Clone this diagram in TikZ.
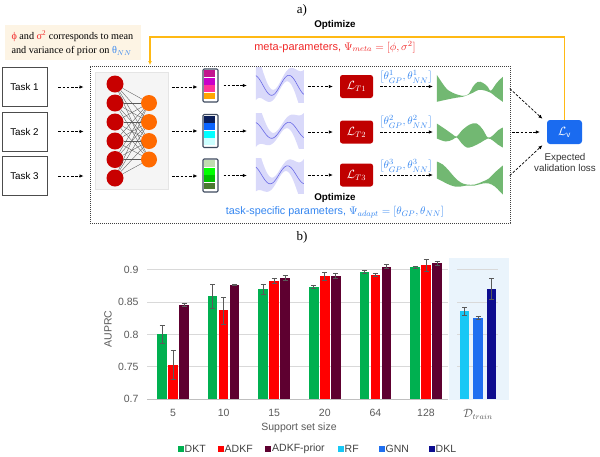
\documentclass[tikz,border=0pt]{standalone}
\usepackage{fontspec}
\setmainfont{Liberation Sans}
\newfontfamily\serifont{Liberation Serif}
\usetikzlibrary{arrows.meta}
\definecolor{notebg}{HTML}{FDF4E4}
\definecolor{optorange}{HTML}{FFB914}
\definecolor{metared}{HTML}{F02828}
\definecolor{adaptblue}{HTML}{3385F0}
\definecolor{lred}{HTML}{C00000}
\definecolor{lvblue}{HTML}{1A6BF0}
\definecolor{nnred}{HTML}{C80000}
\definecolor{nnorange}{HTML}{FF6A00}
\definecolor{slate}{HTML}{3E4A5E}
\definecolor{gpband}{HTML}{D9D9FA}
\definecolor{gpline}{HTML}{6A6AE6}
\definecolor{gband}{HTML}{72B872}
\definecolor{cAa}{HTML}{C2148E}
\definecolor{cAb}{HTML}{C800C8}
\definecolor{cAc}{HTML}{FF3399}
\definecolor{cAd}{HTML}{FFA500}
\definecolor{cBa}{HTML}{0A1E5A}
\definecolor{cBb}{HTML}{0A64FF}
\definecolor{cBc}{HTML}{00FFFF}
\definecolor{cBd}{HTML}{CCFFFF}
\definecolor{cCa}{HTML}{C0DCB0}
\definecolor{cCb}{HTML}{00FF00}
\definecolor{cCc}{HTML}{00C000}
\definecolor{cCd}{HTML}{4A7A30}
\definecolor{dkt}{HTML}{00B050}
\definecolor{adkf}{HTML}{FF0000}
\definecolor{prior}{HTML}{5E0030}
\definecolor{rf}{HTML}{18C8F5}
\definecolor{gnn}{HTML}{1F6FF0}
\definecolor{dkl}{HTML}{0D0D8F}
\definecolor{dtbg}{HTML}{EAF4FC}
\newcommand\barerr[4]{%
  \fill[#4] ({#1-4.75},399) rectangle ({#1+4.75},{399-(#2-0.7)*646});
  \draw[errbar] ({#1},{399-(#2-#3-0.7)*646}) -- ({#1},{399-(#2+#3-0.7)*646});
  \draw[errbar] ({#1-2.5},{399-(#2-#3-0.7)*646}) -- ({#1+2.5},{399-(#2-#3-0.7)*646});
  \draw[errbar] ({#1-2.5},{399-(#2+#3-0.7)*646}) -- ({#1+2.5},{399-(#2+#3-0.7)*646});}
\begin{document}
\begin{tikzpicture}[x=1pt,y=-1pt,font=\fontsize{9.8}{11}\selectfont,
  task/.style={draw=black!70,line width=0.9pt,minimum width=45pt,minimum height=39pt,inner sep=0pt},
  darr/.style={draw=black,line width=0.7pt,dash pattern=on 2.6pt off 1.6pt,-{Latex[length=4pt,width=3.6pt]}},
  lbox/.style={fill=lred,rounded corners=2.5pt,minimum width=33pt,minimum height=23pt,inner sep=0pt,text=white,font=\fontsize{11.5}{11}\selectfont},
  vecbox/.style={draw=slate,line width=1.1pt,fill=white,rounded corners=1.2pt,minimum width=15pt,minimum height=33pt,inner sep=0pt},
  panel/.style={minimum width=48pt,minimum height=35pt,inner sep=0pt},
  gridln/.style={draw=black!15,line width=0.7pt},
  errbar/.style={draw=black!65,line width=0.7pt},
  ticklab/.style={text=black!65,font=\fontsize{10.5}{12}\selectfont},
  optlab/.style={font=\fontsize{9.8}{11}\selectfont\bfseries},
  thlab/.style={text=adaptblue,font=\fontsize{11}{12}\selectfont},
  legsq/.style={minimum size=6pt,inner sep=0pt}
  ]
\useasboundingbox (0,0) rectangle (600,456);
% ---------- part a ----------
\node[font=\serifont\fontsize{13}{13}\selectfont] (alab) at (302,10) {a)};
\fill[notebg] (5,25) rectangle (141,60);
\node[anchor=west,align=left,font=\serifont\fontsize{10.2}{14.5}\selectfont] (note) at (8,43.5)
  {\textcolor{metared}{ϕ} and \textcolor{metared}{σ\textsuperscript{2}} corresponds to mean\\ and variance of prior on \textcolor{adaptblue}{θ$_{NN}$}};
% frame
\node[draw=black!75,line width=1pt,dash pattern=on 1.2pt off 0.8pt,minimum width=420pt,minimum height=157pt,inner sep=0pt] (frame) at (300,144.5) {};
% tasks
\node[task] (t1) at (24.5,87) {Task 1};
\node[task] (t2) at (24.5,131.5) {Task 2};
\node[task] (t3) at (24.5,176) {Task 3};
\foreach \k in {1,2,3}
  \draw[darr,shorten <=11pt,shorten >=6pt] (t\k.east) -- (t\k.east -| frame.west);
% NN
\node[fill=black!4,draw=black!10,minimum width=73pt,minimum height=117pt,inner sep=0pt] (nn) at (131.5,130.5) {};
\foreach \i/\y in {1/84,2/103,3/122,4/141,5/159.5,6/178}
  \node[circle,fill=nnred,minimum size=17pt,inner sep=0pt] (r\i) at (115,\y) {};
\foreach \j/\y in {1/103,2/122,3/141,4/159.5}
  \node[circle,fill=nnorange,minimum size=16pt,inner sep=0pt] (o\j) at (149,\y) {};
\foreach \i in {1,...,6}
  \foreach \j in {1,...,4}
    \draw[black!65,line width=0.35pt] (r\i) -- (o\j);
% vectors
\foreach \k/\y/\ca/\cb/\cc/\cd in {1/85.5/cAa/cAb/cAc/cAd,2/131/cBa/cBb/cBc/cBd,3/175.5/cCa/cCb/cCc/cCd}{
  \node[vecbox] (v\k) at (210.5,\y) {};
  \begin{scope}[shift={(v\k.north west)}]
    \fill[\ca] (2,2) rectangle (13,8.8);
    \fill[\cb] (2,9.4) rectangle (13,16.2);
    \fill[\cc] (2,16.8) rectangle (13,23.6);
    \fill[\cd] (2,24.2) rectangle (13,31);
  \end{scope}
}
\draw[darr,shorten <=4pt,shorten >=5pt] (nn.east |- t1.east) -- (v1.west |- t1.east);
\draw[darr,shorten <=4pt,shorten >=5pt] (nn.east |- v2.west) -- (v2.west);
\draw[darr,shorten <=4pt,shorten >=5pt] (nn.east |- t3.east) -- (v3.west |- t3.east);
% GP panels
\foreach \k/\yc/\c/\a/\ph in {1/85.5/17.5/10/0.33,2/131/17/8/0.33,3/176.5/16/9/0.30}{
  \node[panel] (gp\k) at (280,\yc) {};
  \begin{scope}[shift={(gp\k.north west)}]
    \clip (0,0) rectangle (48,35);
    \fill[gpband] plot[domain=0:1,samples=50,variable=\t] ({48*\t},{\c-\a*sin(500*(\t-\ph)-90)-(3.5+21*(2*\t-1)*(2*\t-1))})
      -- plot[domain=1:0,samples=50,variable=\t] ({48*\t},{\c-\a*sin(500*(\t-\ph)-90)+(3.5+21*(2*\t-1)*(2*\t-1))}) -- cycle;
    \draw[gpline,line width=0.6pt] plot[domain=0:1,samples=50,variable=\t] ({48*\t},{\c-\a*sin(500*(\t-\ph)-90)});
  \end{scope}
  \draw[darr,shorten <=5pt,shorten >=9pt] (v\k.east) -- (v\k.east -| gp\k.west);
}
% losses
\node[lbox] (l1) at (356.5,86.5) {$\mathcal{L}_{T1}$};
\node[lbox] (l2) at (356.5,132) {$\mathcal{L}_{T2}$};
\node[lbox] (l3) at (356.5,175) {$\mathcal{L}_{T3}$};
\foreach \k in {1,2,3}
  \draw[darr,shorten <=4pt,shorten >=7pt] (gp\k.east |- l\k.west) -- (l\k.west);
% green bands
\node[minimum width=66pt,minimum height=27pt,inner sep=0pt] (g1) at (470,88.5) {};
\node[minimum width=66pt,minimum height=28pt,inner sep=0pt] (g2) at (470,135.7) {};
\node[minimum width=66pt,minimum height=34pt,inner sep=0pt] (g3) at (470,178.7) {};
\begin{scope}[shift={(g1.north west)}]
  \fill[gband] plot[smooth,tension=0.6] coordinates {(0,0) (9,13) (16,18) (26,21) (32,19) (36,12) (41,7) (46,8) (51,12) (54,16) (60,8) (66,2)}
    -- plot[smooth,tension=0.6] coordinates {(66,27) (59,22) (54,18) (49,16) (42,15) (36,18) (26,22) (19,23) (9,25) (0,27)} -- cycle;
\end{scope}
\begin{scope}[shift={(g2.north west)}]
  \fill[gband] plot[smooth,tension=0.6] coordinates {(0,2) (9,8) (16,13) (20,15) (25,9) (33,3) (40,2) (46,8) (51,16) (56,14) (61,9) (66,6)}
    -- plot[smooth,tension=0.6] coordinates {(66,26) (61,23) (56,19) (51,17) (44,21) (36,25) (30,26) (25,22) (20,16) (16,18) (9,20) (0,17)} -- cycle;
\end{scope}
\begin{scope}[shift={(g3.north west)}]
  \fill[gband] plot[smooth,tension=0.6] coordinates {(0,0) (6,3) (12,9) (18,16) (24,21) (30,23) (38,23) (46,20) (52,17) (58,11) (66,4)}
    -- plot[smooth,tension=0.6] coordinates {(66,33) (58,25) (52,22) (46,22) (38,24) (30,24) (24,25) (18,25) (12,23) (6,20) (0,17)} -- cycle;
\end{scope}
\foreach \k in {1,2,3}
  \draw[darr,shorten <=7pt,shorten >=4pt] (l\k.east) -- (l\k.east -| g\k.west);
\node[thlab] (p1) at (406,77) {$\left[\theta^1_{GP},\theta^1_{NN}\right]$};
\node[thlab] (p2) at (406,122) {$\left[\theta^2_{GP},\theta^2_{NN}\right]$};
\node[thlab] (p3) at (406,166) {$\left[\theta^3_{GP},\theta^3_{NN}\right]$};
% validation loss
\node[fill=lvblue,rounded corners=3pt,minimum width=35pt,minimum height=24pt,inner sep=0pt,text=white,font=\fontsize{11.5}{11}\selectfont] (lv) at (564.5,132) {$\mathcal{L}_{\mathrm{v}}$};
\node[align=center,text=black!80,font=\fontsize{9.8}{11}\selectfont] (elab) at (565,162.5) {Expected\\validation loss};
\draw[darr,shorten <=9pt,shorten >=6pt] ([yshift=6pt]g1.east) -- ([yshift=-3pt]lv.north west);
\draw[darr,shorten <=9pt,shorten >=7pt] (g2.east |- lv.west) -- (lv.west);
\draw[darr,shorten <=9pt,shorten >=6pt] ([yshift=-3pt]g3.east) -- ([yshift=3pt]lv.south west);
% optimize paths
\coordinate (oin) at (150,65);
\draw[optorange,line width=1.3pt,-{Latex[length=4pt,width=4pt]}] (lv.north) -- (lv.north |- 0,37) -- (oin |- 0,37) -- (oin);
\node[optlab] (opt1) at (335,25) {Optimize};
\node[text=metared,font=\fontsize{11}{12}\selectfont] (meta) at (335,47) {meta-parameters, $\Psi_{meta}=[\phi,\sigma^2]$};
\node[optlab] (opt2) at (335,198) {Optimize};
\node[text=adaptblue,font=\fontsize{10.8}{12}\selectfont] (adapt) at (335,212) {task-specific parameters, $\Psi_{adapt}=[\theta_{GP},\theta_{NN}]$};
% ---------- part b ----------
\node[font=\serifont\fontsize{13}{13}\selectfont] (blab) at (302,237) {b)};
\fill[dtbg] (449,258) rectangle (509,400);
\foreach \v in {0.75,0.8,0.85,0.9}{
  \draw[gridln] (147,{399-(\v-0.7)*646}) -- (448,{399-(\v-0.7)*646});
  \draw[gridln] (457,{399-(\v-0.7)*646}) -- (498,{399-(\v-0.7)*646});
}
\draw[draw=black!25,line width=0.8pt] (147,399) -- (448,399);
\foreach \v/\lab [count=\n] in {0.7/0.7,0.75/0.75,0.8/0.8,0.85/0.85,0.9/0.9}
  \node[ticklab,anchor=east] (yl\n) at (142,{399-(\v-0.7)*646}) {\lab};
\node[ticklab,rotate=90] (ylab) at (108,329) {AUPRC};
\foreach \i/\a/\ea/\b/\eb/\c/\ec in {0/0.800/0.014/0.753/0.023/0.846/0.002,
   1/0.859/0.018/0.837/0.021/0.877/0.001,
   2/0.870/0.008/0.883/0.004/0.887/0.004,
   3/0.874/0.002/0.890/0.006/0.891/0.004,
   4/0.897/0.002/0.892/0.002/0.905/0.003,
   5/0.904/0.002/0.907/0.009/0.910/0.003}{
  \pgfmathsetmacro\cx{173+50.6*\i}
  \barerr{\cx-11}{\a}{\ea}{dkt}
  \barerr{\cx}{\b}{\eb}{adkf}
  \barerr{\cx+11}{\c}{\ec}{prior}
}
\barerr{464.5}{0.836}{0.006}{rf}
\barerr{478}{0.826}{0.002}{gnn}
\barerr{491.5}{0.870}{0.016}{dkl}
\foreach \lab [count=\n from 0] in {5,10,15,20,64,128}
  \node[ticklab] (xl\n) at ({173+50.6*\n},413) {\lab};
\node[ticklab,font=\fontsize{11.5}{12}\selectfont] (xdt) at (478,414) {$\mathcal{D}_{train}$};
\node[ticklab] (xtitle) at (299,428) {Support set size};
% legend
\foreach \x/\col/\lab [count=\n] in {180.5/dkt/DKT,220.5/adkf/ADKF,268/prior/ADKF-prior,340.5/rf/RF,381.5/gnn/GNN,431.5/dkl/DKL}{
  \node[legsq,fill=\col] (lq\n) at (\x,449) {};
  \node[anchor=west,text=black!75,inner sep=0pt,font=\fontsize{10.5}{12}\selectfont] (lt\n) at (\x+4,449) {\lab};
}
\end{tikzpicture}
\end{document}
